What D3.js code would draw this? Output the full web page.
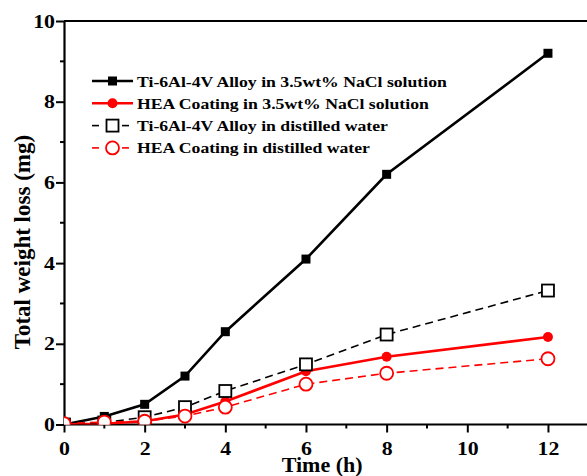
<!DOCTYPE html>
<html>
<head>
<meta charset="utf-8">
<script src="https://cdn.jsdelivr.net/npm/d3@7"></script>
<style>
  body { margin: 0; background: #fff; }
  svg { display: block; font-family: "Liberation Serif", "DejaVu Serif", serif; font-weight: bold; }
</style>
</head>
<body>
<div id="chart"></div>
<script>
var hours = [0, 1, 2, 3, 4, 6, 8, 12];
var alloyNaCl = [0, 0.2, 0.5, 1.2, 2.3, 4.1, 6.2, 9.2];
var coatingNaCl = [0, 0.02, 0.08, 0.25, 0.57, 1.32, 1.68, 2.17];
var alloyWater = [0, 0.05, 0.18, 0.43, 0.83, 1.49, 2.23, 3.32];
var coatingWater = [0.02, 0.06, 0.08, 0.21, 0.43, 1.0, 1.27, 1.63];
var xTicks = [0, 2, 4, 6, 8, 10, 12];
var yTicks = [0, 2, 4, 6, 8, 10];
var seriesNames = ["Ti-6Al-4V Alloy in 3.5wt% NaCl solution",
    "HEA Coating in 3.5wt% NaCl solution",
    "Ti-6Al-4V Alloy in distilled water",
    "HEA Coating in distilled water"];

var width = 587, height = 476;
var margin = {left: 64, top: 21, bottom: 51.5};
var stretch = 1.15; // text in the figure is a bit wider than the font

var series = [
    {name: seriesNames[0], values: alloyNaCl, color: '#000', dash: null, lw: 2.6, marker: 'square', filled: true, size: 9},
    {name: seriesNames[1], values: coatingNaCl, color: '#f00', dash: null, lw: 2.6, marker: 'circle', filled: true, size: 10},
    {name: seriesNames[2], values: alloyWater, color: '#000', dash: '8,5', lw: 1.6, marker: 'square', filled: false, size: 12},
    {name: seriesNames[3], values: coatingWater, color: '#f00', dash: '8,5', lw: 1.6, marker: 'circle', filled: false, size: 13}
];

var svg = d3.select('#chart').append('svg')
    .attr('width', width)
    .attr('height', height);

var x = d3.scaleLinear().domain([0, 13]).range([margin.left, margin.left + 13 * 40.33]);
var y = d3.scaleLinear().domain([0, 10]).range([height - margin.bottom, margin.top]);

svg.append('clipPath').attr('id', 'plot-clip')
    .append('rect')
    .attr('x', x(0)).attr('y', 0)
    .attr('width', width).attr('height', y(0));

// frame
svg.append('line')
    .attr('x1', margin.left).attr('x2', width + 5)
    .attr('y1', y(10)).attr('y2', y(10))
    .style('stroke', '#000').style('stroke-width', 2);

// minor ticks
svg.append('g').selectAll('line')
    .data(d3.range(1, 13, 2))
    .enter().append('line')
    .attr('x1', function(d) { return x(d); }).attr('x2', function(d) { return x(d); })
    .attr('y1', y(0)).attr('y2', y(0) + 4)
    .style('stroke', '#000').style('stroke-width', 2);
svg.append('g').selectAll('line')
    .data(d3.range(1, 10, 2))
    .enter().append('line')
    .attr('y1', function(d) { return y(d); }).attr('y2', function(d) { return y(d); })
    .attr('x1', margin.left).attr('x2', margin.left - 4)
    .style('stroke', '#000').style('stroke-width', 2);

var xAxis = svg.append('g')
    .attr('transform', 'translate(0,' + y(0) + ')')
    .call(d3.axisBottom(x).tickValues(xTicks).tickSize(8).tickSizeOuter(0).tickFormat(d3.format('d')));
var yAxis = svg.append('g')
    .attr('transform', 'translate(' + margin.left + ',0)')
    .call(d3.axisLeft(y).tickValues(yTicks).tickSize(8).tickSizeOuter(0).tickFormat(d3.format('d')));

[xAxis, yAxis].forEach(function(a) {
    a.select('.domain').style('stroke-width', 2.2);
    a.selectAll('.tick line').style('stroke-width', 2);
    a.selectAll('.tick text')
        .style('font-family', '"Liberation Serif", serif')
        .style('font-weight', 'bold')
        .style('font-size', '19px')
        .style('fill', '#000')
        .attr('transform', 'scale(' + stretch + ',1)');
});
xAxis.selectAll('.tick text').attr('y', 30.5).attr('dy', null);
yAxis.selectAll('.tick text').attr('x', -9 / stretch);
xAxis.select('.domain').attr('d', 'M' + margin.left + ',0H' + (width + 5));

svg.append('text')
    .attr('transform', 'translate(' + x(6.4) + ',472) scale(1.1,1)')
    .attr('text-anchor', 'middle')
    .style('font-size', '20px')
    .text('Time (h)');

svg.append('text')
    .attr('transform', 'translate(30,' + y(4.52) + ') rotate(-90)')
    .attr('text-anchor', 'middle')
    .style('font-size', '23px')
    .text('Total weight loss (mg)');

var line = d3.line()
    .x(function(d) { return x(d[0]); })
    .y(function(d) { return y(d[1]); });

function drawMarker(g, s, cx, cy) {
    var fill = s.filled ? s.color : '#fff';
    if (s.marker === 'square') {
        g.append('rect')
            .attr('x', cx - s.size / 2).attr('y', cy - s.size / 2)
            .attr('width', s.size).attr('height', s.size)
            .style('fill', fill).style('stroke', s.color)
            .style('stroke-width', s.filled ? 0 : 1.8);
    } else {
        g.append('circle')
            .attr('cx', cx).attr('cy', cy).attr('r', s.size / 2)
            .style('fill', fill).style('stroke', s.color)
            .style('stroke-width', s.filled ? 0 : 1.8);
    }
}

var plot = svg.append('g').attr('clip-path', 'url(#plot-clip)');
series.forEach(function(s) {
    var pts = hours.map(function(h, i) { return [h, s.values[i]]; });
    var g = plot.append('g');
    g.append('path')
        .attr('d', line(pts))
        .style('fill', 'none')
        .style('stroke', s.color)
        .style('stroke-width', s.lw)
        .style('stroke-dasharray', s.dash);
    pts.forEach(function(p) { drawMarker(g, s, x(p[0]), y(p[1])); });
});

// legend
var legend = svg.append('g');
series.forEach(function(s, i) {
    var ly = 81 + i * 22.3;
    var lg = legend.append('g');
    if (s.dash) {
        lg.append('line').attr('x1', 92).attr('x2', 99).attr('y1', ly).attr('y2', ly)
            .style('stroke', s.color).style('stroke-width', s.lw);
        lg.append('line').attr('x1', 122).attr('x2', 129).attr('y1', ly).attr('y2', ly)
            .style('stroke', s.color).style('stroke-width', s.lw);
    } else {
        lg.append('line').attr('x1', 92).attr('x2', 133).attr('y1', ly).attr('y2', ly)
            .style('stroke', s.color).style('stroke-width', s.lw);
    }
    drawMarker(lg, s, 112.5, ly);
    lg.append('text')
        .attr('transform', 'translate(137,' + (ly + 5.5) + ') scale(1.18,1)')
        .style('font-size', '15px')
        .style('fill', '#000')
        .text(s.name);
});
</script>
</body>
</html>
